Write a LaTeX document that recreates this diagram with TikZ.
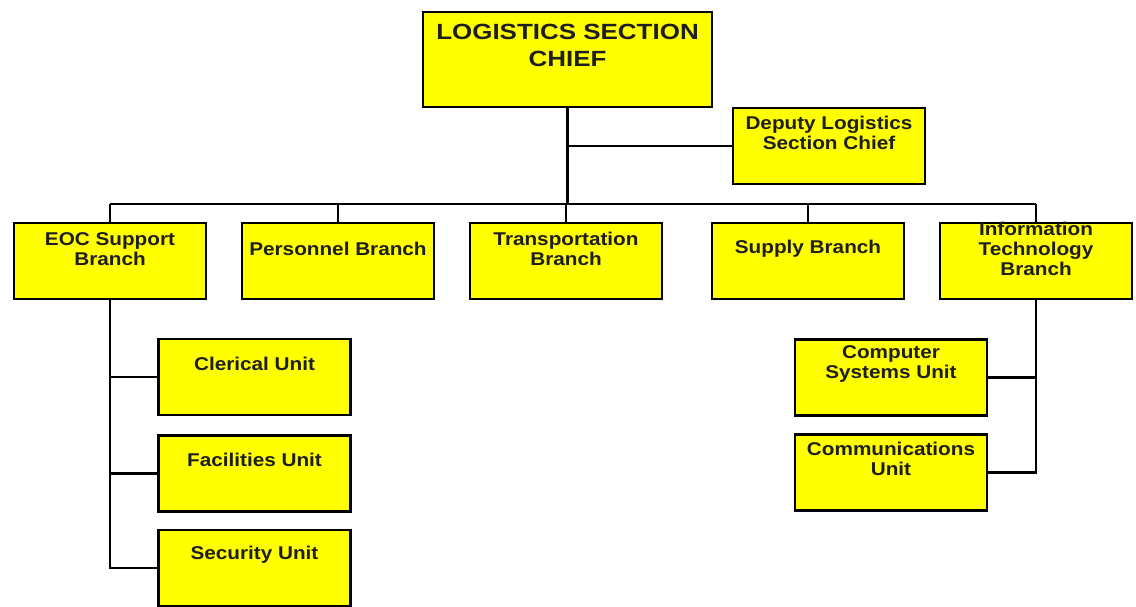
\documentclass[tikz,border=0pt]{standalone}
\usepackage{fontspec}
\newfontfamily\labfont[FakeStretch=1.12]{Liberation Sans}
\newfontfamily\chieffont[FakeStretch=1.18]{Liberation Sans}
\definecolor{boxyellow}{HTML}{FFFF00}
\definecolor{txtdark}{HTML}{1E1E1E}
\tikzset{
  box/.style={draw=black, line width=2.4pt, fill=boxyellow, minimum width=192pt, minimum height=76pt, inner sep=0pt},
  chiefbox/.style={box, minimum width=289pt, minimum height=95pt},
  txt/.style={align=center, text=txtdark, font=\labfont\bfseries\fontsize{18.5}{20}\selectfont, inner sep=0pt},
  chieftxt/.style={align=center, text=txtdark, font=\chieffont\bfseries\fontsize{22}{27}\selectfont, inner sep=0pt},
  conn/.style={line width=2.4pt, draw=black}
}
\begin{document}
\begin{tikzpicture}[x=1pt,y=-1pt]
\useasboundingbox[fill=white] (0,0) rectangle (1136,606);
% boxes
\node[chiefbox] (chief) at (567.5,59.5) {};
\node[box] (dep) at (829,146) {};
\node[box] (eoc) at (110,261) {};
\node[box] (pers) at (338,261) {};
\node[box] (trans) at (566,261) {};
\node[box] (sup) at (808,261) {};
\node[box] (it) at (1036,261) {};
\node[box] (cler) at (254.5,377) {};
\node[box] (fac) at (254.5,473.5) {};
\node[box] (sec) at (254.5,568) {};
\node[box] (comp) at (891,377.5) {};
\node[box] (comm) at (891,472.5) {};
% texts
\node[chieftxt] (tchief) at ([yshift=-35pt]chief.north) {LOGISTICS SECTION\\CHIEF};
\node[txt] (tdep) at ([yshift=-26pt]dep.north) {Deputy Logistics\\Section Chief};
\node[txt] (teoc) at ([yshift=-27pt]eoc.north) {EOC Support\\Branch};
\node[txt] (tpers) at ([yshift=-27pt]pers.north) {Personnel Branch};
\node[txt] (ttrans) at ([yshift=-27pt]trans.north) {Transportation\\Branch};
\node[txt] (tsup) at ([yshift=-27pt]sup.north) {Supply Branch};
\node[txt] (tit) at ([yshift=-27pt]it.north) {Information\\Technology\\Branch};
\node[txt] (tcler) at ([yshift=-26pt]cler.north) {Clerical Unit};
\node[txt] (tfac) at ([yshift=-26pt]fac.north) {Facilities Unit};
\node[txt] (tsec) at ([yshift=-26pt]sec.north) {Security Unit};
\node[txt] (tcomp) at ([yshift=-26pt]comp.north) {Computer\\Systems Unit};
\node[txt] (tcomm) at ([yshift=-26pt]comm.north) {Communications\\Unit};
% connectors
\coordinate (busL) at (110,204);
\coordinate (busR) at (1036,204);
\draw[conn] (busL) -- (busR);
\draw[conn] (chief.south) -- (chief.south |- busL);
\draw[conn] (dep.west) -- (dep.west -| chief.south);
\draw[conn] (eoc.north) -- (eoc.north |- busL);
\draw[conn] (pers.north) -- (pers.north |- busL);
\draw[conn] (trans.north) -- (trans.north |- busL);
\draw[conn] (sup.north) -- (sup.north |- busL);
\draw[conn] (it.north) -- (it.north |- busR);
\draw[conn] (eoc.south) |- (sec.west);
\draw[conn] (cler.west) -- (cler.west -| eoc.south);
\draw[conn] (fac.west) -- (fac.west -| eoc.south);
\draw[conn] (it.south) |- (comm.east);
\draw[conn] (comp.east) -- (comp.east -| it.south);
\end{tikzpicture}
\end{document}
